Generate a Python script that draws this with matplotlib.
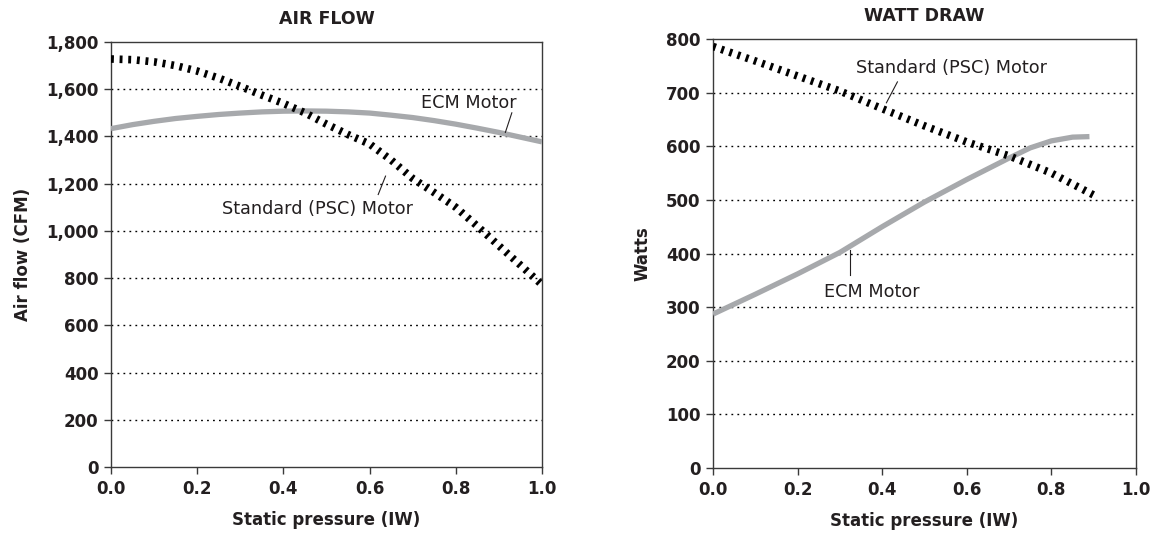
import numpy as np
import matplotlib
matplotlib.use('Agg')
import matplotlib.pyplot as plt

# air flow chart
af_x = [0.0, 0.05, 0.1, 0.15, 0.2, 0.25, 0.3, 0.35, 0.4, 0.45, 0.5,
        0.55, 0.6, 0.65, 0.7, 0.75, 0.8, 0.85, 0.9, 0.95, 1.0]
af_ecm = [1433, 1450, 1464, 1476, 1485, 1493, 1499, 1504, 1507, 1508, 1507,
          1504, 1499, 1490, 1480, 1467, 1452, 1435, 1417, 1397, 1377]
af_psc = [1728, 1725, 1716, 1700, 1677, 1647, 1612, 1575, 1540, 1500, 1452,
          1408, 1368, 1300, 1222, 1162, 1100, 1020, 937, 855, 772]

# watt draw chart
wd_x_psc = [0.0, 0.1, 0.2, 0.3, 0.4, 0.5, 0.6, 0.7, 0.8, 0.9]
wd_psc = [786, 759, 731, 703, 670, 638, 608, 582, 550, 509]
wd_x_ecm = [0.0, 0.1, 0.2, 0.3, 0.4, 0.5, 0.6, 0.7, 0.75, 0.8, 0.85, 0.89]
wd_ecm = [287, 324, 362, 402, 450, 496, 538, 578, 597, 610, 617, 618]

af_yticks = [0, 200, 400, 600, 800, 1000, 1200, 1400, 1600, 1800]
wd_yticks = [0, 100, 200, 300, 400, 500, 600, 700, 800]
x_ticks = [0.0, 0.2, 0.4, 0.6, 0.8, 1.0]

ECM_GRAY = '#a7a9ac'
INK = '#231f20'
psc_style = (0, (0.38, 0.75))

plt.rcParams['font.family'] = ['DejaVu Sans']
fig = plt.figure(figsize=(11.5, 5.35), dpi=100)
ax1 = fig.add_axes([0.0965, 0.1271, 0.3748, 0.7944])
ax2 = fig.add_axes([0.620, 0.1252, 0.3678, 0.8019])


def setup_axis(ax, yticks, ylabels, title, ylabel):
    """Box, ticks, dotted grid and labels shared by both panels."""
    ax.set_xlim(0, 1)
    ax.set_ylim(yticks[0], yticks[-1])
    ax.set_xticks(x_ticks)
    ax.set_xticklabels(['%.1f' % t for t in x_ticks])
    ax.set_yticks(yticks)
    ax.set_yticklabels(ylabels)
    for s in ax.spines.values():
        s.set_color('#3a3a3a')
        s.set_linewidth(1.0)
    ax.tick_params(direction='out', length=5, width=1, color='#3a3a3a',
                   labelsize=12, labelcolor=INK, pad=4)
    for lab in ax.get_xticklabels() + ax.get_yticklabels():
        lab.set_fontweight('bold')
    for t in yticks[1:-1]:
        ax.axhline(t, color='black', lw=1, linestyle=(0, (1.3, 3)), zorder=1)
    ax.set_title(title, fontsize=12.5, fontweight='bold', color=INK, pad=13)
    ax.set_xlabel('Static pressure (IW)', fontsize=12, fontweight='bold',
                  color=INK, labelpad=10)
    ax.set_ylabel(ylabel, fontsize=12, fontweight='bold', color=INK,
                  labelpad=10)


setup_axis(ax1, af_yticks, ['{:,}'.format(v) for v in af_yticks],
           'AIR FLOW', 'Air flow (CFM)')
ax1.plot(af_x, af_ecm, color=ECM_GRAY, lw=3.8, solid_capstyle='butt',
         zorder=3)
ax1.plot(af_x, af_psc, color='black', lw=5.5, linestyle=psc_style,
         dash_capstyle='butt', zorder=4)
ax1.text(0.83, 1543, 'ECM Motor', fontsize=12.7, color=INK,
         ha='center', va='center')
ax1.plot([0.93, 0.915], [1500, 1417], color=INK, lw=0.8, zorder=5)
ax1.text(0.48, 1091, 'Standard (PSC) Motor', fontsize=12.7, color=INK,
         ha='center', va='center')
ax1.plot([0.637, 0.62], [1232, 1154], color=INK, lw=0.8, zorder=5)

setup_axis(ax2, wd_yticks, [str(v) for v in wd_yticks],
           'WATT DRAW', 'Watts')
ax2.plot(wd_x_ecm, wd_ecm, color=ECM_GRAY, lw=3.8, solid_capstyle='butt',
         zorder=3)
ax2.plot(wd_x_psc, wd_psc, color='black', lw=5.5, linestyle=psc_style,
         dash_capstyle='butt', zorder=4)
ax2.text(0.563, 746, 'Standard (PSC) Motor', fontsize=12.7, color=INK,
         ha='center', va='center')
ax2.plot([0.436, 0.41], [720, 681], color=INK, lw=0.8, zorder=5)
ax2.text(0.376, 329, 'ECM Motor', fontsize=12.7, color=INK,
         ha='center', va='center')
ax2.plot([0.324, 0.324], [406, 360], color=INK, lw=0.8, zorder=5)

fig.savefig('out.png', dpi=100)
